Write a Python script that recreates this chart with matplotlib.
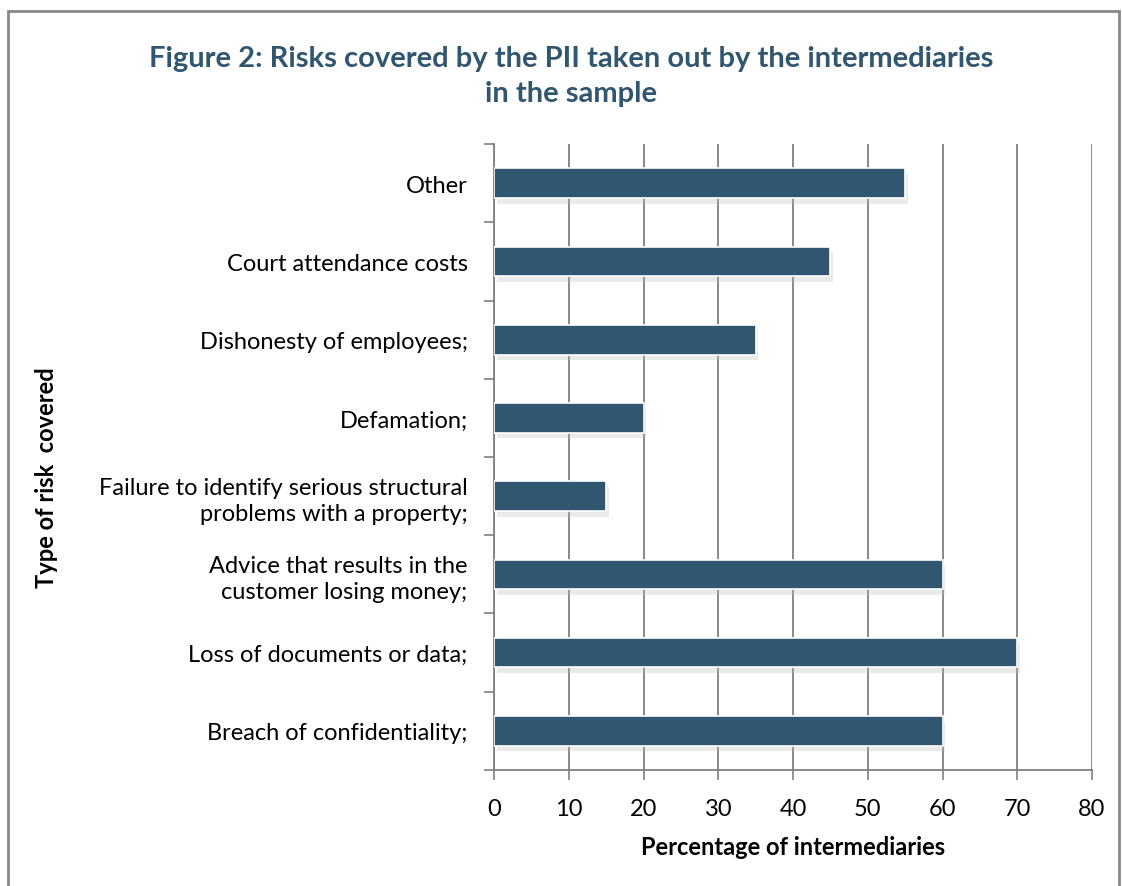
import matplotlib
matplotlib.use("Agg")
import matplotlib.pyplot as plt
import matplotlib.patheffects as pe
from matplotlib.patches import Rectangle

# Categories listed bottom to top
categories = [
    "Breach of confidentiality;",
    "Loss of documents or data;",
    "Advice that results in the\ncustomer losing money;",
    "Failure to identify serious structural\nproblems with a property;",
    "Defamation;",
    "Dishonesty of employees;",
    "Court attendance costs",
    "Other",
]
values = [60, 70, 60, 15, 20, 35, 45, 55]
x_ticks = [0, 10, 20, 30, 40, 50, 60, 70, 80]

plt.rcParams["font.family"] = ["Lato", "DejaVu Sans"]

bar_color = "#31566F"
title_color = "#31566F"

fig = plt.figure(figsize=(11.22, 8.87), dpi=100)
ax = fig.add_axes([0.4403, 0.1308, 0.533, 0.7057])

pos = list(range(len(categories)))
bars = ax.barh(pos, values, height=0.38, color=bar_color, edgecolor="white",
               linewidth=1.2, zorder=3)
for b in bars:
    b.set_path_effects([pe.SimplePatchShadow(offset=(2, -4), shadow_rgbFace="#bbbbbb", alpha=0.3),
                        pe.Normal()])

ax.set_xlim(0, 80)
ax.set_ylim(-0.5, len(categories) - 0.5)
ax.set_xticks(x_ticks)
ax.set_xticklabels([str(t) for t in x_ticks], fontsize=17)
ax.set_yticks(pos)
ax.set_yticklabels(categories, fontsize=17, linespacing=1.3)
ax.tick_params(axis="y", length=0, pad=19)
ax.set_yticks([p - 0.5 for p in pos] + [len(pos) - 0.5], minor=True)
ax.tick_params(axis="y", which="minor", length=7, color="#808080", width=1.2)
ax.tick_params(axis="x", length=7, color="#808080", width=1.2, pad=13)

ax.grid(axis="x", color="#808080", linewidth=1.3, zorder=0)
ax.set_axisbelow(True)
for s in ["top", "right"]:
    ax.spines[s].set_visible(False)
for s in ["left", "bottom"]:
    ax.spines[s].set_color("#808080")
    ax.spines[s].set_linewidth(1.3)

ax.set_xlabel("Percentage of intermediaries", fontsize=17, fontweight="bold", labelpad=12)
fig.text(0.041, 0.461, "Type of risk  covered", rotation=90, fontsize=17,
         fontweight="bold", ha="center", va="center")

fig.text(0.509, 0.914, "Figure 2: Risks covered by the PII taken out by the intermediaries\nin the sample",
         fontsize=21, fontweight="bold", color=title_color, ha="center", va="center",
         linespacing=1.45)

fig.patches.append(Rectangle((0.007, -0.01), 0.99, 0.996, transform=fig.transFigure,
                             fill=False, edgecolor="#888888", linewidth=2))

fig.savefig("out.png", dpi=100)
